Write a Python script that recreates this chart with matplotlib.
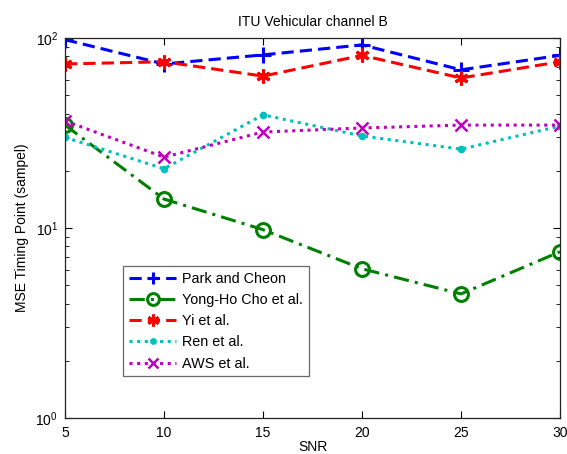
import matplotlib
matplotlib.use("Agg")
import matplotlib.pyplot as plt
from matplotlib.ticker import LogLocator, NullFormatter

snr = [5, 10, 15, 20, 25, 30]
park = [98, 73, 81.5, 92, 68, 81]
yongho = [34.8, 14.2, 9.8, 6.1, 4.5, 7.5]
yi = [73, 75, 63, 81, 61.6, 75]
ren = [30, 20.5, 39.4, 30.5, 26, 34.4]
aws = [36.6, 23.6, 32, 33.6, 34.8, 34.8]
labels = ["Park and Cheon", "Yong-Ho Cho et al.", "Yi et al.", "Ren et al.", "AWS et al."]

plt.rcParams['font.family'] = ['Liberation Sans', 'DejaVu Sans']

fig = plt.figure(figsize=(5.67, 4.54), dpi=100)
ax = fig.add_axes([65/567, 36/454, 495/567, 380/454])

ax.plot(snr, park, color='#0000ff', ls=(0, (4, 2)), lw=2.2, marker='+', ms=11, mew=2.2, label=labels[0])
ax.plot(snr, yongho, color='#008000', ls=(0, (5, 2, 1, 2)), lw=2.2, marker='o', ms=10, mew=2.2, mfc='none', label=labels[1])
ax.plot(snr, yi, color='#ff0000', ls=(0, (4, 2)), lw=2.2, marker=(6, 2, 0), ms=10, mew=2.2, label=labels[2])
ax.plot(snr, ren, color='#00bfbf', ls=(0, (1, 1.5)), lw=2.2, marker='.', ms=8, mew=1.5, label=labels[3])
ax.plot(snr, aws, color='#bf00bf', ls=(0, (1, 1.5)), lw=2.2, marker='x', ms=8, mew=1.8, label=labels[4])

ax.set_yscale('log')
ax.set_ylim(1, 100)
ax.set_xlim(5, 30)
ax.set_xticks(snr)
ax.yaxis.set_major_locator(LogLocator(base=10, numticks=5))
ax.yaxis.set_minor_locator(LogLocator(base=10, subs=range(2, 10), numticks=20))
ax.yaxis.set_minor_formatter(NullFormatter())
ax.tick_params(which='both', direction='in', top=True, right=True, labelsize=10)
ax.tick_params(axis='x', which='major', pad=6)
ax.tick_params(axis='y', which='major', pad=5)
ax.tick_params(which='major', length=5)
ax.tick_params(which='minor', length=3)
for s in ax.spines.values():
    s.set_linewidth(0.9)
    s.set_color('#222222')

ax.set_title("ITU Vehicular channel B", fontsize=10, pad=9)
ax.set_xlabel("SNR", fontsize=10, labelpad=0)
ax.set_ylabel("MSE Timing Point (sampel)", fontsize=10, labelpad=5)

leg = ax.legend(loc='upper left', bbox_to_anchor=(0.117, 0.4), fontsize=10.4, frameon=True,
                fancybox=False, edgecolor='#444444', handlelength=3.3, handletextpad=0.4,
                labelspacing=0.5, borderpad=0.4, borderaxespad=0, markerscale=0.85)
leg.get_frame().set_linewidth(0.9)

fig.savefig("out.png", dpi=100)
